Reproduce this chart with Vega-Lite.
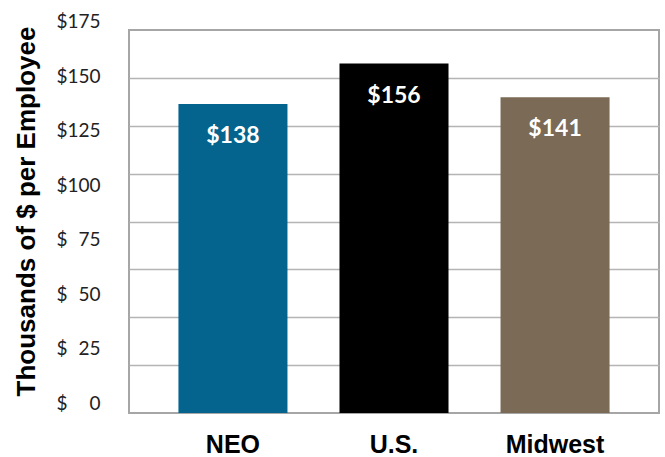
{
  "$schema": "https://vega.github.io/schema/vega-lite/v6.json",
  "width": 530,
  "height": 383,
  "autosize": {"type": "none"},
  "padding": {"left": 129, "top": 30, "right": 6, "bottom": 44},
  "background": "white",
  "config": {"view": {"stroke": "#a6a6a6", "strokeWidth": 2}},
  "data": {
    "values": [
      {"region": "NEO", "value": 138},
      {"region": "U.S.", "value": 156},
      {"region": "Midwest", "value": 141}
    ]
  },
  "encoding": {
    "x": {
      "field": "region",
      "type": "nominal",
      "sort": null,
      "scale": {"paddingInner": 0.323, "paddingOuter": 0.307},
      "axis": {
        "title": null,
        "labelAngle": 0,
        "labelFont": "Liberation Sans",
        "labelFontWeight": "bold",
        "labelFontSize": 25,
        "labelColor": "#000000",
        "ticks": false,
        "tickSize": 0,
        "domain": false,
        "labelPadding": 39,
        "labelBaseline": "alphabetic"
      }
    }
  },
  "layer": [
    {
      "mark": {"type": "bar"},
      "encoding": {
        "y": {
          "field": "value",
          "type": "quantitative",
          "scale": {"domain": [0, 171], "nice": false, "zero": true},
          "axis": {
            "values": [21.375, 42.75, 64.125, 85.5, 106.875, 128.25, 149.625],
            "grid": true,
            "gridColor": "#b4b4b4",
            "gridWidth": 1.5,
            "labels": false,
            "ticks": false,
            "domain": false,
            "title": null
          }
        },
        "color": {
          "field": "region",
          "type": "nominal",
          "scale": {"domain": ["NEO", "U.S.", "Midwest"], "range": ["#04648e", "#000000", "#7b6a56"]},
          "legend": null
        }
      }
    },
    {
      "mark": {"type": "text", "dy": 32, "baseline": "middle", "font": "Lato", "fontWeight": "bold", "fontSize": 23, "color": "white"},
      "encoding": {
        "y": {
          "field": "value",
          "type": "quantitative",
          "scale": {"domain": [0, 171], "nice": false, "zero": true},
          "axis": null
        },
        "text": {"field": "value", "type": "quantitative", "format": "$d"}
      }
    },
    {
      "mark": {"type": "point", "opacity": 0},
      "encoding": {
        "y": {
          "field": "value",
          "type": "quantitative",
          "scale": {"domain": [0, 175], "range": [373, -8.3], "nice": false, "zero": true},
          "axis": {
            "orient": "left",
            "values": [0, 25, 50, 75, 100, 125, 150, 175],
            "labelExpr": "datum.value >= 100 ? '$' + datum.value : (datum.value >= 10 ? '$\u2007' + datum.value : '$\u2007\u2007' + datum.value)",
            "labelFont": "Lato",
            "labelFontSize": 19,
            "labelColor": "#222222",
            "labelAlign": "right",
            "labelBaseline": "middle",
            "labelOverlap": false,
            "labelFlush": false,
            "ticks": false,
            "tickSize": 0,
            "domain": false,
            "grid": false,
            "labelPadding": 29,
            "title": "Thousands of $ per Employee",
            "titleFont": "Liberation Sans",
            "titleFontWeight": "bold",
            "titleFontSize": 26,
            "titleColor": "#000000",
            "titleAngle": -90,
            "titleX": -95,
            "titleY": 181,
            "titleAlign": "center",
            "titleBaseline": "alphabetic"
          }
        }
      }
    }
  ],
  "resolve": {"scale": {"y": "independent"}}
}
